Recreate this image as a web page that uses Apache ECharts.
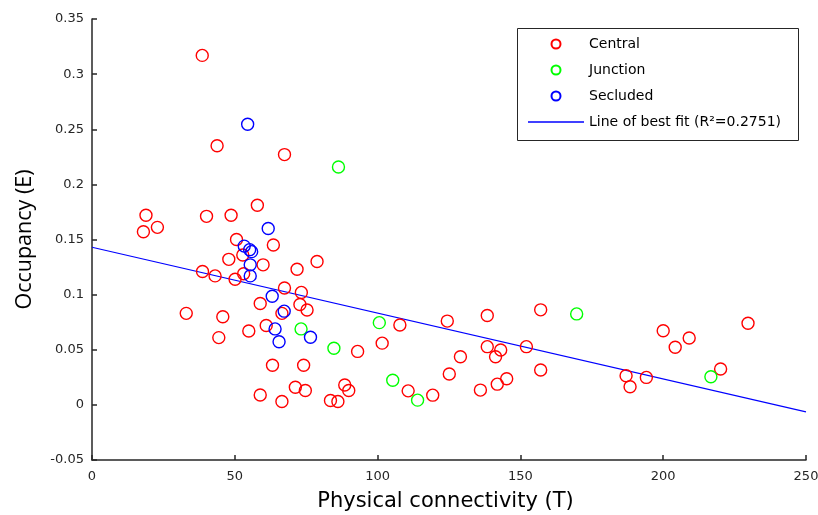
<!DOCTYPE html>
<html>
<head>
<meta charset="utf-8">
<script src="https://cdn.jsdelivr.net/npm/echarts@6/dist/echarts.min.js"></script>
<style>
html,body{margin:0;padding:0;background:#fff;}
#chart{width:818px;height:515px;}
</style>
</head>
<body>
<div id="chart"></div>
<script>
// ---- data ----
var centralX = [38.6, 43.8, 67.4, 18.9, 18.0, 22.9, 40.1, 48.7, 57.9, 50.6,
  63.5, 52.8, 47.9, 59.9, 78.8, 71.8, 38.7, 43.1, 53.1, 50.1,
  67.4, 73.3, 58.9, 72.8, 75.3, 66.5, 33.0, 45.8, 44.4, 54.9,
  61.0, 63.2, 74.1, 71.2, 74.7, 58.9, 66.5, 83.5, 86.1, 88.5,
  89.9, 107.8, 124.4, 138.4, 101.6, 93.0, 129.0, 138.4, 143.1, 141.3,
  152.1, 125.1, 110.7, 119.3, 136.0, 141.9, 145.2, 157.1, 157.1, 200.0,
  209.1, 204.2, 229.7, 187.0, 188.4, 194.1, 220.1];
var centralY = [0.317, 0.235, 0.227, 0.172, 0.157, 0.161, 0.171, 0.172, 0.181, 0.150,
  0.145, 0.136, 0.132, 0.127, 0.130, 0.123, 0.121, 0.117, 0.119, 0.114,
  0.106, 0.102, 0.092, 0.091, 0.086, 0.083, 0.083, 0.080, 0.061, 0.067,
  0.072, 0.036, 0.036, 0.016, 0.013, 0.009, 0.003, 0.004, 0.003, 0.018,
  0.013, 0.0725, 0.076, 0.081, 0.056, 0.0485, 0.0437, 0.0528, 0.0498, 0.0437,
  0.0528, 0.028, 0.0127, 0.0088, 0.0134, 0.0188, 0.0237, 0.0862, 0.0316, 0.0673,
  0.0607, 0.0522, 0.074, 0.0264, 0.0164, 0.0249, 0.0325];
var junctionX = [86.3, 73.2, 84.7, 100.6, 105.3, 114.0, 169.7, 216.7];
var junctionY = [0.2157, 0.0689, 0.0513, 0.0746, 0.0224, 0.0043, 0.0825, 0.0255];
var secludedX = [54.5, 61.7, 53.3, 55.2, 55.9, 55.4, 55.4, 63.1, 67.3, 64.1, 65.5, 76.5];
var secludedY = [0.2545, 0.160, 0.144, 0.1408, 0.1390, 0.127, 0.117, 0.0985, 0.085, 0.0689, 0.0573, 0.0613];
var fitX = [0, 250];
var fitY = [0.143, -0.0064];
var xTicks = [0, 50, 100, 150, 200, 250];
var yTicks = [-0.05, 0, 0.05, 0.1, 0.15, 0.2, 0.25, 0.3, 0.35];
var seriesNames = ['Central', 'Junction', 'Secluded', 'Line of best fit (R²=0.2751)'];

function zip(xs, ys) { return xs.map(function (x, i) { return [x, ys[i]]; }); }

var chart = echarts.init(document.getElementById('chart'), null, { renderer: 'canvas' });
var tickFont = { color: '#262626', fontFamily: 'DejaVu Sans', fontSize: 13 };

function scatter(name, data, color) {
  return {
    name: name, type: 'scatter', data: data,
    symbol: 'circle', symbolSize: 12,
    itemStyle: { color: 'rgba(0,0,0,0)', borderColor: color, borderWidth: 1.4, opacity: 1 },
    emphasis: { disabled: true }, z: 3
  };
}

chart.setOption({
  animation: false,
  backgroundColor: '#fff',
  grid: { left: 92, right: 12, top: 19, bottom: 55, outerBoundsMode: 'none', containLabel: false },
  xAxis: {
    type: 'value', min: xTicks[0], max: xTicks[xTicks.length - 1], interval: 50,
    name: 'Physical connectivity (T)', nameLocation: 'middle', nameGap: 31,
    nameTextStyle: { color: '#000', fontFamily: 'DejaVu Sans', fontSize: 21, padding: [0, 7, 0, 0] },
    axisLine: { onZero: false, lineStyle: { color: '#262626', width: 1.5 } },
    axisTick: { inside: true, length: 5, lineStyle: { color: '#262626', width: 1.5 } },
    axisLabel: Object.assign({ margin: 10 }, tickFont),
    splitLine: { show: false }
  },
  yAxis: {
    type: 'value', min: yTicks[0], max: yTicks[yTicks.length - 1], interval: 0.05,
    name: 'Occupancy (E)', nameLocation: 'middle', nameGap: 56,
    nameTextStyle: { color: '#000', fontFamily: 'Open Sans', fontSize: 21.5 },
    axisLine: { onZero: false, lineStyle: { color: '#262626', width: 1.5 } },
    axisTick: { inside: true, length: 5, lineStyle: { color: '#262626', width: 1.5 } },
    axisLabel: Object.assign({ margin: 8 }, tickFont),
    splitLine: { show: false }
  },
  legend: {
    orient: 'vertical', left: 528, top: 37, padding: 0,
    itemWidth: 56, itemHeight: 9, itemGap: 12,
    textStyle: { color: '#000', fontFamily: 'DejaVu Sans', fontSize: 14, lineHeight: 14 },
    z: 10,
    data: [
      { name: seriesNames[0] },
      { name: seriesNames[1] },
      { name: seriesNames[2] },
      { name: seriesNames[3], icon: 'path://M0 0H56V1.3H0Z' }
    ]
  },
  graphic: [{
    type: 'rect', left: 517, top: 28, z: 5,
    shape: { width: 281, height: 112 },
    style: { fill: '#fff', stroke: '#262626', lineWidth: 1 }
  }],
  series: [
    scatter(seriesNames[0], zip(centralX, centralY), '#ff0000'),
    scatter(seriesNames[1], zip(junctionX, junctionY), '#00ff00'),
    scatter(seriesNames[2], zip(secludedX, secludedY), '#0000ff'),
    {
      name: seriesNames[3], type: 'line', data: zip(fitX, fitY),
      symbol: 'none', showSymbol: false,
      lineStyle: { color: '#0000ff', width: 1.2 },
      itemStyle: { color: '#0000ff' },
      emphasis: { disabled: true }, z: 2
    }
  ]
});
</script>
</body>
</html>
